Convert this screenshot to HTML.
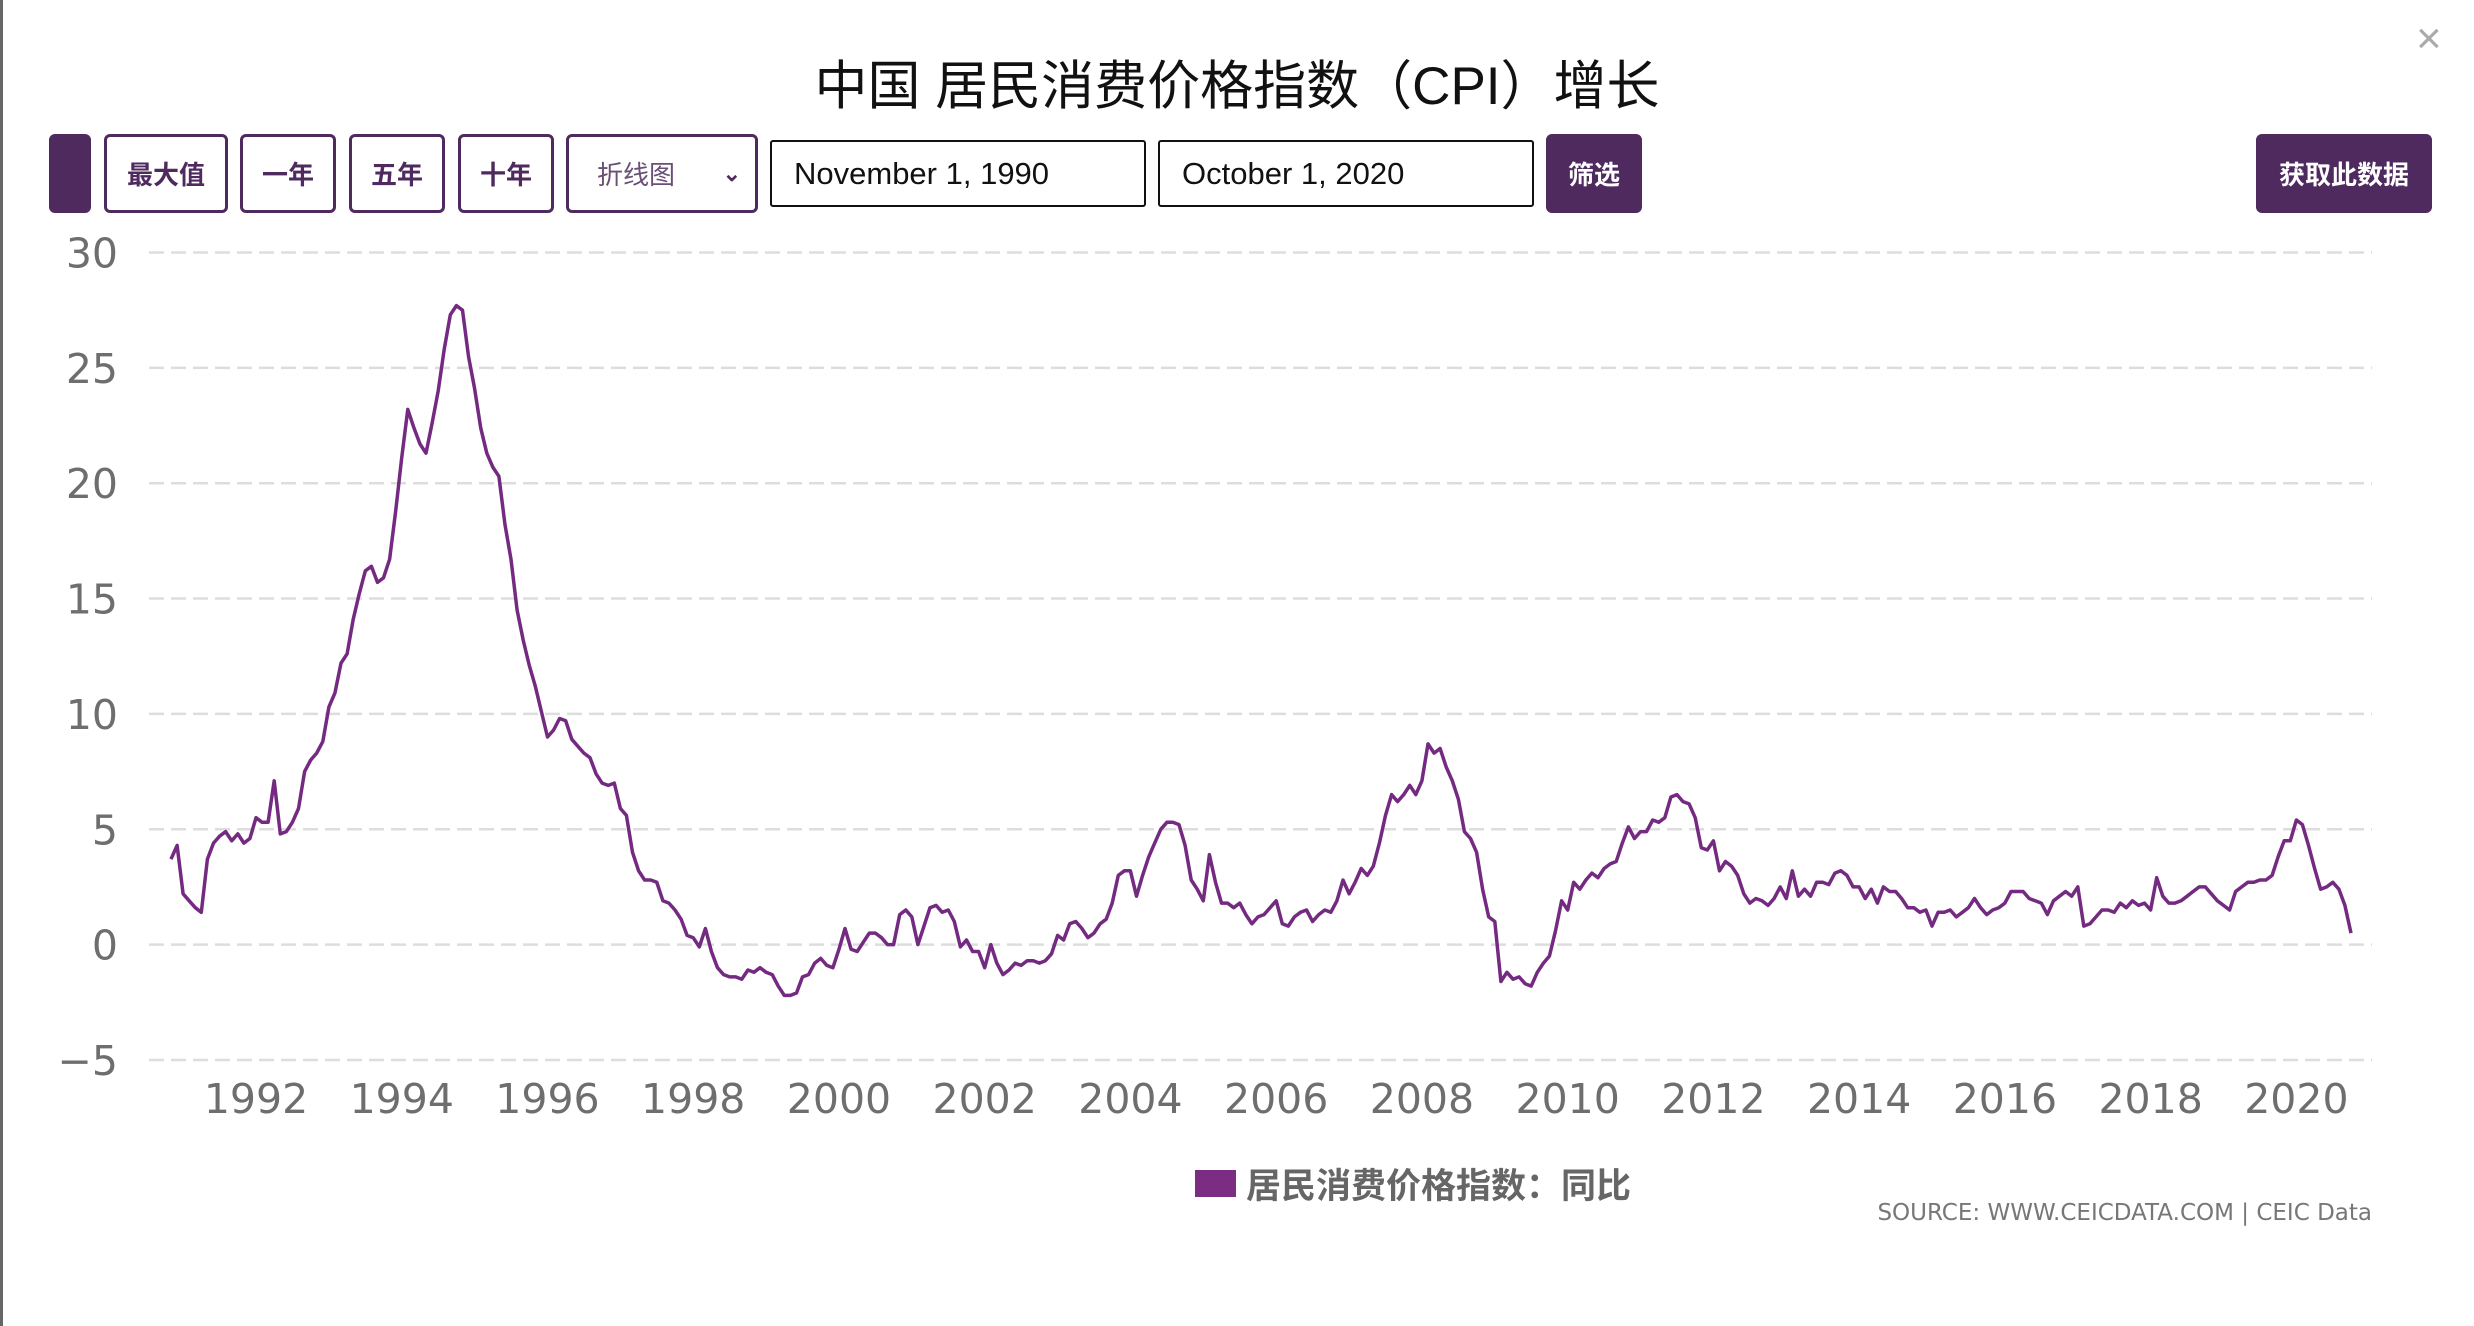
<!DOCTYPE html>
<html><head><meta charset="utf-8">
<style>
html,body{margin:0;padding:0;background:#fff;}
body{width:2474px;height:1326px;position:relative;overflow:hidden;font-family:"Liberation Sans","Noto Sans CJK SC",sans-serif;}
.btn{position:absolute;top:134px;height:79px;box-sizing:border-box;border:3px solid #4f2a5e;border-radius:6px;background:#fff;color:#4f2a5e;font-size:26px;font-weight:bold;display:flex;align-items:center;justify-content:center;font-family:"Liberation Sans","Noto Sans CJK SC",sans-serif;}
.dark{background:#4f2a5e;color:#fff;}
.inp{position:absolute;top:140px;height:67px;box-sizing:border-box;border:2px solid #111;border-radius:3px;font-size:31px;color:#111;display:flex;align-items:center;padding-left:22px;}
</style></head>
<body>
<div style="position:absolute;left:0;top:0;width:3px;height:1326px;background:#666"></div>
<div style="position:absolute;left:0;width:2474px;top:44px;text-align:center;font-size:53px;color:#111;font-family:'Liberation Sans','Noto Sans CJK SC',sans-serif;">中国 居民消费价格指数（CPI）增长</div>
<div style="position:absolute;left:2416px;top:14px;font-size:44px;color:#aaa;">×</div>
<div class="btn dark" style="left:49px;width:42px;"></div>
<div class="btn" style="left:104px;width:124px;">最大值</div>
<div class="btn" style="left:240px;width:96px;">一年</div>
<div class="btn" style="left:349px;width:96px;">五年</div>
<div class="btn" style="left:458px;width:96px;">十年</div>
<div class="btn" style="left:566px;width:192px;font-weight:normal;justify-content:flex-start;padding-left:28px;color:#6a4f76;">折线图<span style="position:absolute;right:14px;font-size:22px;color:#4f2a5e;font-weight:bold">&#x2304;</span></div>
<div class="inp" style="left:770px;width:376px;">November 1, 1990</div>
<div class="inp" style="left:1158px;width:376px;">October 1, 2020</div>
<div class="btn dark" style="left:1546px;width:96px;">筛选</div>
<div class="btn dark" style="left:2256px;width:176px;">获取此数据</div>

<svg id="chart" width="2474" height="1326" style="position:absolute;left:0;top:0" xmlns="http://www.w3.org/2000/svg"></svg>

<div style="position:absolute;left:1195px;top:1158px;font-size:35px;color:#666;font-weight:bold;display:flex;align-items:center;">
<span style="display:inline-block;width:41px;height:27px;background:#7b2c83;margin-right:10px"></span>居民消费价格指数：同比</div>
<div style="position:absolute;right:102px;top:1200px;font-size:23px;color:#777;font-family:'DejaVu Sans',sans-serif;">SOURCE: WWW.CEICDATA.COM | CEIC Data</div>

<script>
const startYear = 1990, startMonth = 10; // Nov 1990 (0-based month)
const yTicks = [30,25,20,15,10,5,0,-5];
const xTicks = [1992,1994,1996,1998,2000,2002,2004,2006,2008,2010,2012,2014,2016,2018,2020];
const cpi = [
3.7,4.3,
2.2,1.9,1.6,1.4,3.7,4.4,4.7,4.9,4.5,4.8,4.4,4.6,
5.5,5.3,5.3,7.1,4.8,4.9,5.3,5.9,7.5,8.0,8.3,8.8,
10.3,10.9,12.2,12.6,14.1,15.2,16.2,16.4,15.7,15.9,16.7,18.8,
21.1,23.2,22.4,21.7,21.3,22.6,24.0,25.8,27.3,27.7,27.5,25.5,
24.1,22.4,21.3,20.7,20.3,18.2,16.7,14.5,13.2,12.1,11.2,10.1,
9.0,9.3,9.8,9.7,8.9,8.6,8.3,8.1,7.4,7.0,6.9,7.0,
5.9,5.6,4.0,3.2,2.8,2.8,2.7,1.9,1.8,1.5,1.1,0.4,
0.3,-0.1,0.7,-0.3,-1.0,-1.3,-1.4,-1.4,-1.5,-1.1,-1.2,-1.0,
-1.2,-1.3,-1.8,-2.2,-2.2,-2.1,-1.4,-1.3,-0.8,-0.6,-0.9,-1.0,
-0.2,0.7,-0.2,-0.3,0.1,0.5,0.5,0.3,0.0,0.0,1.3,1.5,
1.2,0.0,0.8,1.6,1.7,1.4,1.5,1.0,-0.1,0.2,-0.3,-0.3,
-1.0,0.0,-0.8,-1.3,-1.1,-0.8,-0.9,-0.7,-0.7,-0.8,-0.7,-0.4,
0.4,0.2,0.9,1.0,0.7,0.3,0.5,0.9,1.1,1.8,3.0,3.2,
3.2,2.1,3.0,3.8,4.4,5.0,5.3,5.3,5.2,4.3,2.8,2.4,
1.9,3.9,2.7,1.8,1.8,1.6,1.8,1.3,0.9,1.2,1.3,1.6,
1.9,0.9,0.8,1.2,1.4,1.5,1.0,1.3,1.5,1.4,1.9,2.8,
2.2,2.7,3.3,3.0,3.4,4.4,5.6,6.5,6.2,6.5,6.9,6.5,
7.1,8.7,8.3,8.5,7.7,7.1,6.3,4.9,4.6,4.0,2.4,1.2,
1.0,-1.6,-1.2,-1.5,-1.4,-1.7,-1.8,-1.2,-0.8,-0.5,0.6,1.9,
1.5,2.7,2.4,2.8,3.1,2.9,3.3,3.5,3.6,4.4,5.1,4.6,
4.9,4.9,5.4,5.3,5.5,6.4,6.5,6.2,6.1,5.5,4.2,4.1,
4.5,3.2,3.6,3.4,3.0,2.2,1.8,2.0,1.9,1.7,2.0,2.5,
2.0,3.2,2.1,2.4,2.1,2.7,2.7,2.6,3.1,3.2,3.0,2.5,
2.5,2.0,2.4,1.8,2.5,2.3,2.3,2.0,1.6,1.6,1.4,1.5,
0.8,1.4,1.4,1.5,1.2,1.4,1.6,2.0,1.6,1.3,1.5,1.6,
1.8,2.3,2.3,2.3,2.0,1.9,1.8,1.3,1.9,2.1,2.3,2.1,
2.5,0.8,0.9,1.2,1.5,1.5,1.4,1.8,1.6,1.9,1.7,1.8,
1.5,2.9,2.1,1.8,1.8,1.9,2.1,2.3,2.5,2.5,2.2,1.9,
1.7,1.5,2.3,2.5,2.7,2.7,2.8,2.8,3.0,3.8,4.5,4.5,
5.4,5.2,4.3,3.3,2.4,2.5,2.7,2.4,1.7,0.5
];

const svg = document.getElementById('chart');
const NS = 'http://www.w3.org/2000/svg';
const xScale = t => 256 + (t - 1992) * 72.87;
const yScale = v => 944.6 - v * 23.07;

yTicks.forEach(v => {
  const l = document.createElementNS(NS,'line');
  
  
  l.setAttribute('x1',149); l.setAttribute('x2',2372);
  l.setAttribute('y1',yScale(v)); l.setAttribute('y2',yScale(v));
  l.setAttribute('stroke','#ddd'); l.setAttribute('stroke-width',2.5);
  l.setAttribute('stroke-dasharray','15,7');
  svg.appendChild(l);
  const t = document.createElementNS(NS,'text');
  
  
  t.setAttribute('x',118); t.setAttribute('y',yScale(v)+15);
  t.setAttribute('text-anchor','end');
  t.setAttribute('font-size',41); t.setAttribute('fill','#6e6e6e');
  t.setAttribute('font-family','DejaVu Sans, sans-serif');
  t.textContent = v < 0 ? '\u2212' + Math.abs(v) : String(v);
  svg.appendChild(t);
});
xTicks.forEach(y => {
  const t = document.createElementNS(NS,'text');
  
  
  t.setAttribute('x',xScale(y)); t.setAttribute('y',1113);
  t.setAttribute('text-anchor','middle');
  t.setAttribute('font-size',41); t.setAttribute('fill','#6e6e6e');
  t.setAttribute('font-family','DejaVu Sans, sans-serif');
  t.textContent = y;
  svg.appendChild(t);
});
const pts = cpi.map((v,i) => {
  const t = startYear + (startMonth + i) / 12;
  return xScale(t).toFixed(1) + ',' + yScale(v).toFixed(1);
});
const p = document.createElementNS(NS,'polyline');


p.setAttribute('points',pts.join(' '));
p.setAttribute('fill','none'); p.setAttribute('stroke','#742a80');
p.setAttribute('stroke-width',3.5); p.setAttribute('stroke-linejoin','round');
svg.appendChild(p);
</script>
</body></html>
